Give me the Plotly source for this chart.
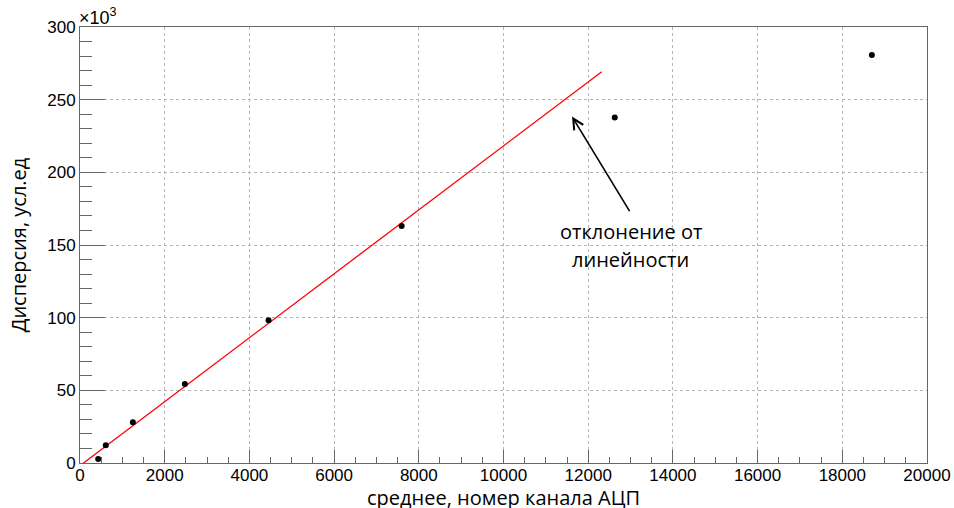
import plotly.graph_objects as go

# Measured points: mean ADC channel vs variance (in units of 10^3)
mean_channel = [430, 609, 1248, 2476, 4453, 7595, 12627, 18698]
variance_k = [2.8, 12.2, 28.0, 54.4, 98.3, 163.1, 237.7, 280.7]

# Linear fit over the low-signal region: variance = slope * mean + offset
fit_slope = 0.02200
fit_offset = -1.83
fit_x = [0, 12320]
fit_y = [fit_slope * x + fit_offset for x in fit_x]

# Arrow pointing at the region where the response departs from the line
arrow_head = (11618, 238.4)
arrow_tail = (12998, 172.3)
note_lines = ["отклонение от", "линейности"]
note_x = 13005
note_y = [159.6, 139.7]

x_title = "среднее, номер канала АЦП"
y_title = "Дисперсия, усл.ед"

x_range = [0, 20000]
y_range = [0, 300]

tick_font = dict(family="Liberation Sans, Arial, sans-serif", size=17, color="black")
title_font = dict(family="Open Sans, Noto Sans, sans-serif", size=20, color="black")
frame_color = "#666666"
grid_color = "#b4b4b4"

fig = go.Figure()

fig.add_trace(go.Scatter(
    x=fit_x, y=fit_y, mode="lines",
    line=dict(color="#ff0000", width=1.3),
    hoverinfo="skip", showlegend=False,
))

fig.add_trace(go.Scatter(
    x=mean_channel, y=variance_k, mode="markers",
    marker=dict(color="black", size=6),
    showlegend=False,
))

fig.add_annotation(
    x=arrow_head[0], y=arrow_head[1], xref="x", yref="y",
    ax=arrow_tail[0], ay=arrow_tail[1], axref="x", ayref="y",
    text="", showarrow=True, arrowhead=5, arrowsize=1.3,
    arrowwidth=1.6, arrowcolor="black",
)

for line, yv in zip(note_lines, note_y):
    fig.add_annotation(
        x=note_x, y=yv, xref="x", yref="y", text=line, showarrow=False,
        xanchor="center", yanchor="middle", font=title_font,
    )

# Exponent marker for the y axis
fig.add_annotation(
    x=0, y=1, xref="paper", yref="paper", xanchor="left", yanchor="bottom",
    text="×10<sup>3</sup>", showarrow=False, xshift=-3, yshift=-3,
    font=dict(family="Liberation Sans, Arial, sans-serif", size=18, color="black"),
)

# x-axis title, placed just below the tick labels
fig.add_annotation(
    x=0.5, y=0, xref="paper", yref="paper", xanchor="center", yanchor="top",
    text=x_title, showarrow=False, yshift=-19, font=title_font,
)

fig.update_xaxes(
    range=x_range, dtick=2000, tick0=0, tickformat="d",
    ticks="inside", ticklen=13, tickcolor=frame_color, tickwidth=1,
    minor=dict(dtick=500, ticks="inside", ticklen=6, tickcolor=frame_color, showgrid=False),
    showgrid=True, gridcolor=grid_color, griddash="dot", gridwidth=1,
    showline=True, linecolor=frame_color, linewidth=1, mirror=True,
    zeroline=False, tickfont=tick_font, ticklabelstandoff=-3,
)

fig.update_yaxes(
    range=y_range, dtick=50, tick0=0, tickformat="d",
    ticks="inside", ticklen=25, tickcolor=frame_color, tickwidth=1,
    minor=dict(dtick=10, ticks="inside", ticklen=12, tickcolor=frame_color, showgrid=False),
    showgrid=True, gridcolor=grid_color, griddash="dot", gridwidth=1,
    showline=True, linecolor=frame_color, linewidth=1, mirror=True,
    zeroline=False, tickfont=tick_font,
    title=dict(text=y_title, font=title_font, standoff=15),
)

fig.update_layout(
    width=954, height=508,
    margin=dict(l=80, r=27, t=27, b=45, autoexpand=False),
    plot_bgcolor="white", paper_bgcolor="white",
)

fig.write_html("out.html")
